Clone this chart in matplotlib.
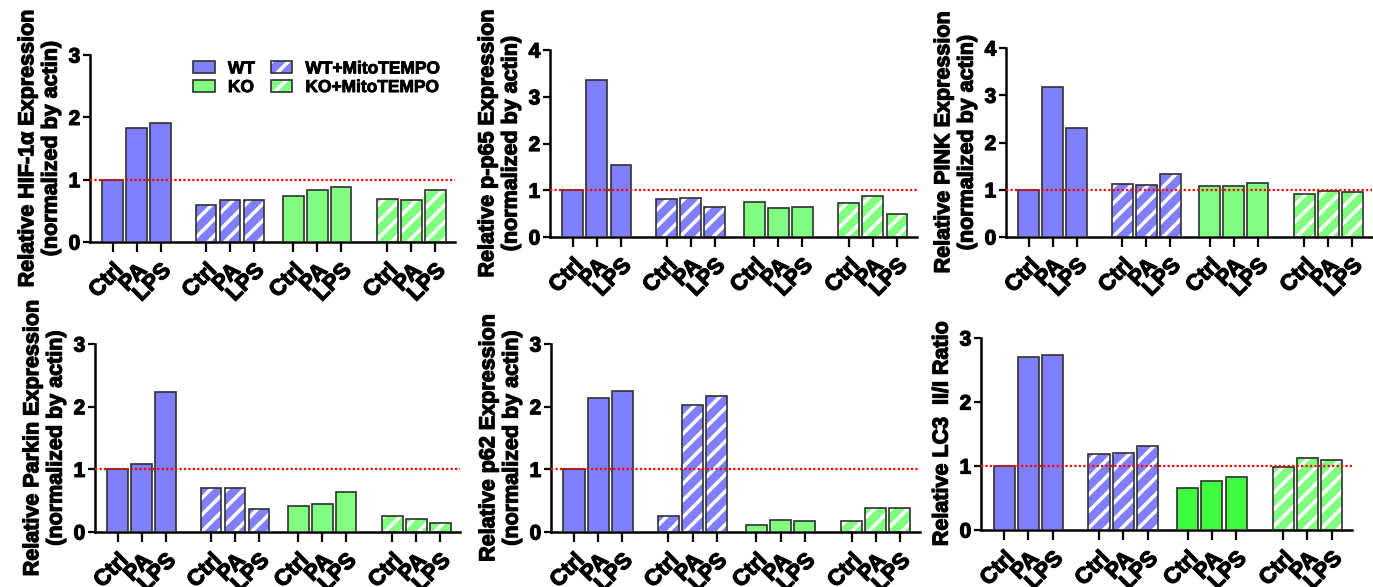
import matplotlib
matplotlib.use("Agg")
import matplotlib.pyplot as plt
import matplotlib.patheffects as pe
from matplotlib.patches import Patch
from matplotlib.legend_handler import HandlerTuple

plt.rcParams['font.family'] = ['Liberation Sans', 'DejaVu Sans']
plt.rcParams['font.weight'] = 'bold'
plt.rcParams['hatch.linewidth'] = 2.5

treatments = ['Ctrl', 'PA', 'LPS']
groups = ['WT', 'WT+MitoTEMPO', 'KO', 'KO+MitoTEMPO']

# values per group: WT, WT+MitoTEMPO, KO, KO+MitoTEMPO (Ctrl, PA, LPS)
hif1a = [[1.00, 1.83, 1.91], [0.59, 0.67, 0.68], [0.74, 0.84, 0.89], [0.69, 0.67, 0.83]]
p_p65 = [[1.00, 3.36, 1.54], [0.81, 0.83, 0.64], [0.75, 0.63, 0.64], [0.73, 0.88, 0.49]]
pink = [[1.00, 3.17, 2.31], [1.13, 1.10, 1.34], [1.08, 1.08, 1.15], [0.91, 0.97, 0.96]]
parkin = [[1.00, 1.08, 2.23], [0.70, 0.70, 0.37], [0.42, 0.45, 0.64], [0.26, 0.20, 0.15]]
p62 = [[1.00, 2.14, 2.25], [0.26, 2.03, 2.17], [0.11, 0.19, 0.17], [0.18, 0.38, 0.38]]
lc3 = [[1.00, 2.70, 2.73], [1.18, 1.21, 1.32], [0.66, 0.76, 0.83], [0.99, 1.13, 1.10]]

ylabels = ['Relative HIF-1\u03b1 Expression\n(normalized by actin)',
           'Relative p-p65 Expression\n(normalized by actin)',
           'Relative PINK Expression\n(normalized by actin)',
           'Relative Parkin Expression\n(normalized by actin)',
           'Relative p62 Expression\n(normalized by actin)',
           'Relative LC3  II/I Ratio']
ymax = [3, 4, 4, 3, 3, 3]

BLUE = '#8080ff'
GREEN = '#80ff80'
GREEN_LC3 = '#40ff40'
EDGE = '#303030'
HEAVY = [pe.withStroke(linewidth=0.9, foreground='black')]

W, H = 1373, 587
# axes boxes in pixels: left, top, right, bottom
boxes = [(90, 55, 455, 242), (550, 50, 917, 237), (1006, 48, 1372, 237),
         (95, 344, 460, 532), (551, 344, 920, 532), (981, 338, 1352, 530)]

group_start = [0, 3.9, 7.54, 11.47]
bar_w = 0.87


def draw_panel(ax, data, ylabel, top, ko_color):
    fills = [BLUE, BLUE, ko_color, GREEN]
    hatched = [False, True, False, True]
    xs, labels = [], []
    for g, vals in enumerate(data):
        pos = [group_start[g] + i for i in range(len(vals))]
        xs += pos
        labels += treatments
        if hatched[g]:
            ax.bar(pos, vals, bar_w, color=fills[g], edgecolor='white',
                   hatch='//', linewidth=0, zorder=2)
            ax.bar(pos, vals, bar_w, color='none', edgecolor=EDGE,
                   linewidth=1.2, zorder=3)
        else:
            ax.bar(pos, vals, bar_w, color=fills[g], edgecolor=EDGE,
                   linewidth=1.2, zorder=3)
    ax.axhline(1, color='red', linestyle=(0, (1, 1)), linewidth=1.6, zorder=5)
    ax.set_xlim(-0.95, 14.3)
    ax.set_ylim(0, top)
    ax.set_yticks(range(top + 1))
    ax.set_xticks(xs)
    ax.set_xticklabels(labels, rotation=45, ha='right', va='top',
                       rotation_mode='anchor', fontsize=16, fontweight='bold')
    ax.tick_params(axis='y', labelsize=15, width=1.6, length=5, pad=2)
    ax.tick_params(axis='x', width=1.6, length=7, pad=6)
    for s in ['top', 'right']:
        ax.spines[s].set_visible(False)
    for s in ['left', 'bottom']:
        ax.spines[s].set_linewidth(1.8)
    ax.set_ylabel(ylabel, fontsize=15.5, fontweight='bold', labelpad=5,
                  linespacing=1.15)
    for t in ax.get_xticklabels() + ax.get_yticklabels() + [ax.yaxis.label]:
        t.set_path_effects(HEAVY)


fig = plt.figure(figsize=(W / 100, H / 100), dpi=100)
panels = [hif1a, p_p65, pink, parkin, p62, lc3]
axes = []
for i, (l, t, r, b) in enumerate(boxes):
    ax = fig.add_axes([l / W, 1 - b / H, (r - l) / W, (b - t) / H])
    ko_color = GREEN_LC3 if i == 5 else GREEN
    draw_panel(ax, panels[i], ylabels[i], ymax[i], ko_color)
    axes.append(ax)

# legend on the first panel
h_wt = Patch(facecolor=BLUE, edgecolor=EDGE, linewidth=1.2)
h_ko = Patch(facecolor=GREEN, edgecolor=EDGE, linewidth=1.2)
h_wtm = (Patch(facecolor=BLUE, edgecolor='white', hatch='//', linewidth=0),
         Patch(facecolor='none', edgecolor=EDGE, linewidth=1.2))
h_kom = (Patch(facecolor=GREEN, edgecolor='white', hatch='//', linewidth=0),
         Patch(facecolor='none', edgecolor=EDGE, linewidth=1.2))
leg = axes[0].legend([h_wt, h_ko, h_wtm, h_kom], ['WT', 'KO', 'WT+MitoTEMPO', 'KO+MitoTEMPO'],
                     ncol=2, loc='upper left', bbox_to_anchor=(0.24, 1.05), frameon=False,
                     handler_map={tuple: HandlerTuple(ndivide=1)},
                     handlelength=1.25, handleheight=0.7, handletextpad=0.75,
                     columnspacing=0.9, labelspacing=0.2,
                     prop={'size': 12.5, 'weight': 'bold'})
for t in leg.get_texts():
    t.set_path_effects([pe.withStroke(linewidth=0.6, foreground='black')])

fig.savefig('out.png', dpi=100)
